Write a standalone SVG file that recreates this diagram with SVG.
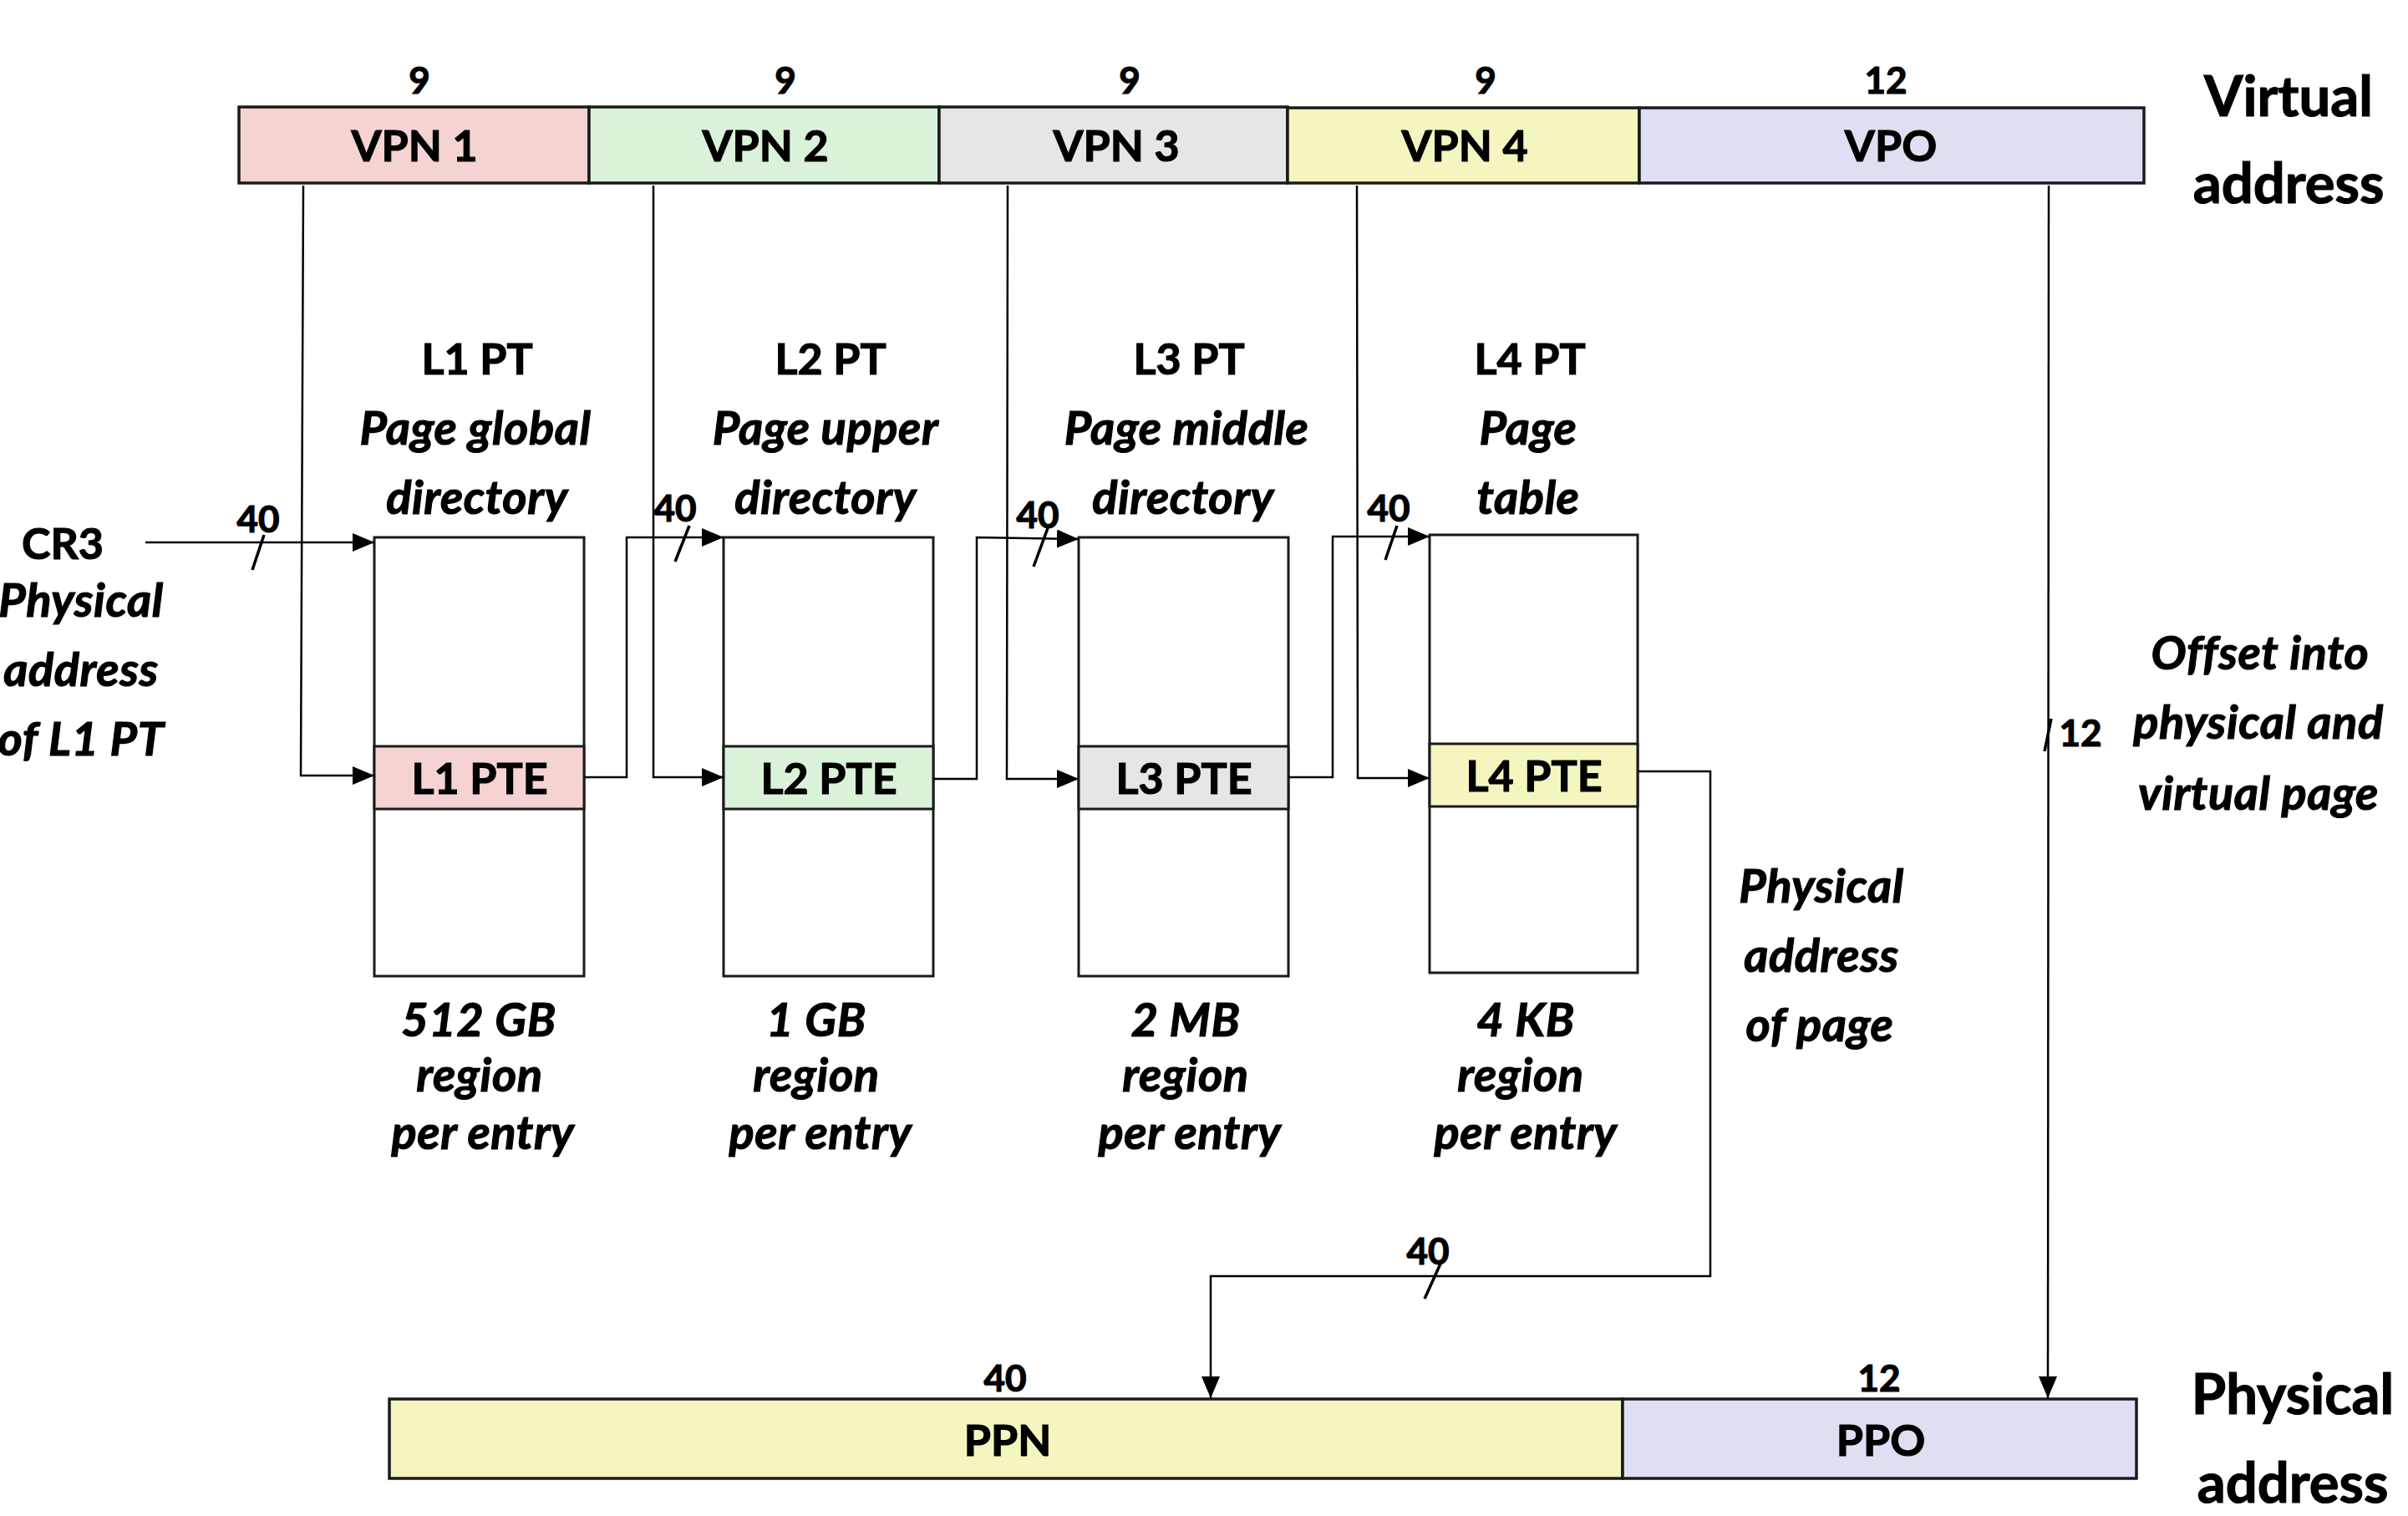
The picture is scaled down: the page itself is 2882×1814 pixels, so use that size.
<svg xmlns="http://www.w3.org/2000/svg" width="2882" height="1814" viewBox="0 0 2882 1814">
<defs>
<style>
text { font-family: Lato, "Liberation Sans", sans-serif; font-weight: bold; fill: #000; stroke: #000; stroke-width: 1.2px; text-anchor: middle; }
.lbl { font-size: 52px; }
.it { font-size: 56px; font-style: italic; letter-spacing: 0.6px; }
.num { font-size: 44px; }
.big { font-size: 67px; }
.field { stroke: #1a1a1a; stroke-width: 3.5; }
.tbl { fill: #fff; stroke: #1a1a1a; stroke-width: 3; }
.pte { stroke: #1a1a1a; stroke-width: 3; }
.conn { fill: none; stroke: #000; stroke-width: 2.5; }
.slash { stroke: #000; stroke-width: 3.5; }
.pink { fill: #F6D3D3; }
.green { fill: #DAF2DA; }
.gray { fill: #E6E6E6; }
.yellow { fill: #F5F5C0; }
.lav { fill: #DEDFF3; }
</style>
<marker id="arr" markerUnits="userSpaceOnUse" markerWidth="26" markerHeight="22" refX="26" refY="11" orient="auto">
<path d="M0,0 L26,11 L0,22 z" fill="#000"/>
</marker>
</defs>
<rect width="2882" height="1814" fill="#fff"/>

<g id="vpn1">
<rect class="field pink" x="286" y="128" width="419" height="91"/>
<text class="num" x="502" y="112">9</text>
<text class="lbl" x="496" y="193">VPN 1</text>
</g>
<g id="vpn2">
<rect class="field green" x="705" y="128" width="419" height="91"/>
<text class="num" x="940" y="112">9</text>
<text class="lbl" x="916" y="193">VPN 2</text>
</g>
<g id="vpn3">
<rect class="field gray" x="1124" y="128" width="417" height="91"/>
<text class="num" x="1352" y="112">9</text>
<text class="lbl" x="1336" y="193">VPN 3</text>
</g>
<g id="vpn4">
<rect class="field yellow" x="1541" y="129" width="421" height="90"/>
<text class="num" x="1778" y="112">9</text>
<text class="lbl" x="1753" y="193">VPN 4</text>
</g>
<g id="vpo">
<rect class="field lav" x="1962" y="129" width="604" height="90"/>
<text class="num" x="2257" y="112">12</text>
<text class="lbl" x="2263" y="193">VPO</text>
</g>
<g id="virtual-address-label">
<text class="big" x="2739" y="139">Virtual</text>
<text class="big" x="2739" y="243">address</text>
</g>

<g id="cr3">
<text class="lbl" x="75" y="669">CR3</text>
<text class="it" x="97" y="738">Physical</text>
<text class="it" x="97" y="821">address</text>
<text class="it" x="97" y="904">of L1 PT</text>
</g>

<g id="l1pt">
<text class="lbl" x="571" y="448">L1 PT</text>
<text class="it" x="569" y="532">Page global</text>
<text class="it" x="571" y="615">directory</text>
<rect class="tbl" x="448" y="643" width="251" height="525"/>
<rect class="pte pink" x="448" y="893" width="251" height="75"/>
<text class="lbl" x="574" y="950">L1 PTE</text>
<text class="it" x="573" y="1240">512 GB</text>
<text class="it" x="574" y="1306">region</text>
<text class="it" x="578" y="1375">per entry</text>
</g>

<g id="l2pt">
<text class="lbl" x="994" y="448">L2 PT</text>
<text class="it" x="988" y="532">Page upper</text>
<text class="it" x="988" y="615">directory</text>
<rect class="tbl" x="866" y="643" width="251" height="525"/>
<rect class="pte green" x="866" y="893" width="251" height="75"/>
<text class="lbl" x="992" y="950">L2 PTE</text>
<text class="it" x="977" y="1240">1 GB</text>
<text class="it" x="977" y="1306">region</text>
<text class="it" x="982" y="1375">per entry</text>
</g>

<g id="l3pt">
<text class="lbl" x="1423" y="448">L3 PT</text>
<text class="it" x="1420" y="532">Page middle</text>
<text class="it" x="1416" y="615">directory</text>
<rect class="tbl" x="1291" y="643" width="251" height="525"/>
<rect class="pte gray" x="1291" y="893" width="251" height="75"/>
<text class="lbl" x="1417" y="950">L3 PTE</text>
<text class="it" x="1419" y="1240">2 MB</text>
<text class="it" x="1419" y="1306">region</text>
<text class="it" x="1424" y="1375">per entry</text>
</g>

<g id="l4pt">
<text class="lbl" x="1831" y="448">L4 PT</text>
<text class="it" x="1829" y="532">Page</text>
<text class="it" x="1829" y="615">table</text>
<rect class="tbl" x="1711" y="640" width="249" height="524"/>
<rect class="pte yellow" x="1711" y="890" width="249" height="75"/>
<text class="lbl" x="1836" y="947">L4 PTE</text>
<text class="it" x="1826" y="1240">4 KB</text>
<text class="it" x="1820" y="1306">region</text>
<text class="it" x="1826" y="1375">per entry</text>
</g>

<g id="page-address-label">
<text class="it" x="2180" y="1080">Physical</text>
<text class="it" x="2180" y="1163">address</text>
<text class="it" x="2178" y="1246">of page</text>
</g>

<g id="offset-label">
<text class="it" x="2705" y="801">Offset into</text>
<text class="it" x="2703" y="884">physical and</text>
<text class="it" x="2703" y="969">virtual page</text>
</g>

<g id="ppn">
<rect class="field yellow" x="466" y="1674" width="1476" height="95"/>
<text class="num" x="1203" y="1665">40</text>
<text class="lbl" x="1206" y="1742">PPN</text>
</g>
<g id="ppo">
<rect class="field lav" x="1942" y="1674" width="615" height="95"/>
<text class="num" x="2249" y="1665">12</text>
<text class="lbl" x="2251" y="1742">PPO</text>
</g>
<g id="physical-address-label">
<text class="big" x="2744" y="1692">Physical</text>
<text class="big" x="2744" y="1798">address</text>
</g>

<g id="connectors">
<path class="conn" d="M174,649 L448,649" marker-end="url(#arr)"/>
<path class="conn" d="M363,222 L360,928 L448,928" marker-end="url(#arr)"/>
<path class="conn" d="M782,222 L782,930 L866,930" marker-end="url(#arr)"/>
<path class="conn" d="M1206,222 L1205,932 L1291,932" marker-end="url(#arr)"/>
<path class="conn" d="M1624,222 L1625,931 L1711,931" marker-end="url(#arr)"/>
<path class="conn" d="M2452,222 L2451,1673" marker-end="url(#arr)"/>
<path class="conn" d="M699,930 L750,930 L750,643 L866,643" marker-end="url(#arr)"/>
<path class="conn" d="M1117,932 L1169,932 L1169,643 L1291,645" marker-end="url(#arr)"/>
<path class="conn" d="M1542,930 L1595,930 L1595,642 L1711,642" marker-end="url(#arr)"/>
<path class="conn" d="M1960,923 L2047,923 L2047,1527 L1449,1527 L1449,1673" marker-end="url(#arr)"/>
<line class="slash" x1="316" y1="640" x2="302" y2="682"/>
<line class="slash" x1="825" y1="629" x2="808" y2="672"/>
<line class="slash" x1="1254" y1="632" x2="1237" y2="678"/>
<line class="slash" x1="1672" y1="629" x2="1658" y2="670"/>
<line class="slash" x1="1725" y1="1510" x2="1705" y2="1554"/>
<line class="slash" x1="2455" y1="860" x2="2447" y2="899"/>
<text class="num" x="309" y="637">40</text>
<text class="num" x="808" y="624">40</text>
<text class="num" x="1242" y="632">40</text>
<text class="num" x="1662" y="624">40</text>
<text class="num" x="1709" y="1513">40</text>
<text class="num" x="2490" y="893">12</text>
</g>
</svg>
